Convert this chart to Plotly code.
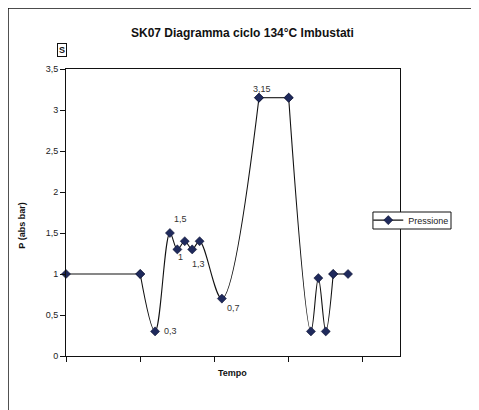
import plotly.graph_objects as go

# Data
tempo = [0, 10, 12, 14, 15, 16, 17, 18, 21, 26, 30, 33, 34, 35, 36, 38]
pressione = [1, 1, 0.3, 1.5, 1.3, 1.4, 1.3, 1.4, 0.7, 3.15, 3.15, 0.3, 0.95, 0.3, 1, 1]

# data labels: (index of point, text)
label_idx = [2, 3, 4, 6, 8, 9]
label_text = ["0,3", "1,5", "1", "1,3", "0,7", "3,15"]
label_dx = [15, 11, 3, 6, 12, 3]
label_dy = [0, 14, -8, -15, -9, 9]

y_ticks = [0, 0.5, 1, 1.5, 2, 2.5, 3, 3.5]
y_ticktext = ["0", "0,5", "1", "1,5", "2", "2,5", "3", "3,5"]
x_ticks = [0, 10, 20, 30, 40]

# line pieces (start index, end index, shape) - flat parts drawn straight
segments = [(0, 1, "linear"), (1, 9, "spline"), (9, 10, "linear"),
            (10, 14, "spline"), (14, 15, "linear")]

FONT = "Liberation Sans, Arial, sans-serif"

fig = go.Figure()
for k, (a, b, shp) in enumerate(segments):
    fig.add_trace(go.Scatter(
        x=tempo[a:b + 1], y=pressione[a:b + 1], name="Pressione",
        legendgroup="p", showlegend=(k == 0),
        mode="lines+markers",
        line=dict(color="#111111", width=1.1, shape=shp, smoothing=1),
        marker=dict(symbol="diamond", size=7, color="#1f2a5c",
                    line=dict(color="#0a0f2a", width=0.5)),
        cliponaxis=False,
    ))

annotations = []
for i, t, dx, dy in zip(label_idx, label_text, label_dx, label_dy):
    annotations.append(dict(
        x=tempo[i], y=pressione[i], xref="x", yref="y", text=t,
        showarrow=False, xshift=dx, yshift=dy,
        font=dict(family=FONT, size=9, color="#333333")))

annotations += [
    dict(x=0.5284, y=1.1254, xref="paper", yref="paper",
         text="<b>SK07 Diagramma ciclo 134°C Imbustati</b>", showarrow=False,
         font=dict(family=FONT, size=12, color="#111111"),
         xanchor="center", yanchor="middle"),
    dict(x=-0.012, y=1.066, xref="paper", yref="paper", text="<b>S</b>",
         showarrow=False, font=dict(family=FONT, size=9, color="#111111"),
         bordercolor="#111111", borderwidth=1, borderpad=1,
         xanchor="center", yanchor="middle"),
    dict(x=-0.1326, y=0.453, xref="paper", yref="paper",
         text="<b>P (abs bar)</b>", textangle=-90, showarrow=False,
         font=dict(family=FONT, size=9, color="#111111"),
         xanchor="center", yanchor="middle"),
    dict(x=0.4994, y=-0.058, xref="paper", yref="paper", text="<b>Tempo</b>",
         showarrow=False, font=dict(family=FONT, size=9, color="#111111"),
         xanchor="center", yanchor="middle"),
]

shapes = [
    dict(type="line", xref="paper", yref="paper", x0=-0.1737, x1=-0.1737,
         y0=-0.3, y1=1.2125, line=dict(color="#111111", width=1.5)),
    dict(type="line", xref="paper", yref="paper", x0=-0.1737, x1=1.3,
         y0=1.2125, y1=1.2125, line=dict(color="#111111", width=1.5)),
    # legend frame
    dict(type="rect", xref="paper", yref="paper", x0=0.919, x1=1.1527,
         y0=0.4425, y1=0.5017, fillcolor="white", layer="above",
         line=dict(color="#111111", width=1)),
]

fig.update_layout(
    width=479, height=410,
    margin=dict(l=58, r=87, t=61, b=62),
    paper_bgcolor="white", plot_bgcolor="white",
    font=dict(family=FONT, size=9, color="#111111"),
    showlegend=True,
    legend=dict(x=0.905, y=0.524, xanchor="left", yanchor="top",
                borderwidth=0, bgcolor="rgba(0,0,0,0)",
                font=dict(family=FONT, size=9, color="#222222"),
                itemwidth=30, tracegroupgap=0),
    annotations=annotations,
    shapes=shapes,
    xaxis=dict(range=[0, 45], tickvals=x_ticks, showticklabels=False,
               ticks="outside", ticklen=5, tickcolor="#111111",
               showline=True, mirror=True, linecolor="#111111", linewidth=1,
               showgrid=False, zeroline=False),
    yaxis=dict(range=[0, 3.5], tickvals=y_ticks, ticktext=y_ticktext,
               ticks="outside", ticklen=5, tickcolor="#111111",
               tickfont=dict(family=FONT, size=9, color="#222222"),
               showline=True, mirror=True, linecolor="#111111", linewidth=1,
               showgrid=False, zeroline=False),
)

fig.write_html("out.html")
